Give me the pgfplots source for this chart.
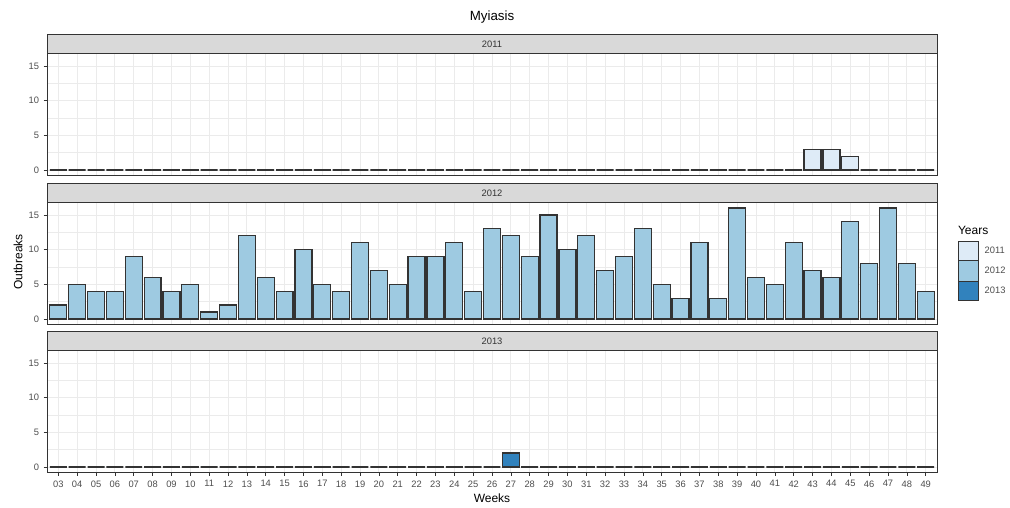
\documentclass[border=0pt]{standalone}
\usepackage{fontspec}
\setmainfont{Liberation Sans}
\usepackage{pgfplots}
\pgfplotsset{compat=1.18}
\definecolor{c2011}{HTML}{DEEBF7}
\definecolor{c2012}{HTML}{9ECAE1}
\definecolor{c2013}{HTML}{3182BD}
\definecolor{stripbg}{HTML}{D9D9D9}
\definecolor{gridc}{HTML}{EBEBEB}
\definecolor{g20}{HTML}{333333}
\definecolor{g30}{HTML}{4D4D4D}

% week index 0..46 = weeks 03..49
\pgfplotstableread{
x y
0 0
1 0
2 0
3 0
4 0
5 0
6 0
7 0
8 0
9 0
10 0
11 0
12 0
13 0
14 0
15 0
16 0
17 0
18 0
19 0
20 0
21 0
22 0
23 0
24 0
25 0
26 0
27 0
28 0
29 0
30 0
31 0
32 0
33 0
34 0
35 0
36 0
37 0
38 0
39 0
40 3
41 3
42 2
43 0
44 0
45 0
46 0
}\yrA
\pgfplotstableread{
x y
0 2
1 5
2 4
3 4
4 9
5 6
6 4
7 5
8 1
9 2
10 12
11 6
12 4
13 10
14 5
15 4
16 11
17 7
18 5
19 9
20 9
21 11
22 4
23 13
24 12
25 9
26 15
27 10
28 12
29 7
30 9
31 13
32 5
33 3
34 11
35 3
36 16
37 6
38 5
39 11
40 7
41 6
42 14
43 8
44 16
45 8
46 4
}\yrB
\pgfplotstableread{
x y
0 0
1 0
2 0
3 0
4 0
5 0
6 0
7 0
8 0
9 0
10 0
11 0
12 0
13 0
14 0
15 0
16 0
17 0
18 0
19 0
20 0
21 0
22 0
23 0
24 2
25 0
26 0
27 0
28 0
29 0
30 0
31 0
32 0
33 0
34 0
35 0
36 0
37 0
38 0
39 0
40 0
41 0
42 0
43 0
44 0
45 0
46 0
}\yrC

\pgfplotsset{facet/.style={
  scale only axis, width=667.5pt, height=91.5pt,
  anchor=south west,
  xmin=-0.6, xmax=46.6, ymin=-0.8, ymax=16.8,
  ytick={0,5,10,15}, minor ytick={2.5,7.5,12.5},
  xtick={0,...,46},
  grid=both,
  major grid style={gridc, line width=0.6pt},
  minor grid style={gridc, line width=0.3pt},
  axis line style={g20, line width=0.6pt},
  tick align=outside, major tick length=2.5pt, minor tick length=0pt,
  tick style={g20, line width=0.5pt},
  xtick pos=bottom, ytick pos=left,
  /pgf/number format/assume math mode=true,
  yticklabel style={font=\fontsize{7}{8}\selectfont, text=g30},
  xticklabel style={font=\fontsize{7}{8}\selectfont, text=g30},
  ybar, bar width=0.9,
  clip=false,
}}

\begin{document}
\begin{tikzpicture}
\path[use as bounding box] (0,0) rectangle (757.5pt,380.25pt);

\node[font=\fontsize{10}{12}\selectfont] at (369pt,367.5pt) {Myiasis};

% 2011
\begin{axis}[facet, at={(35.25pt,248.6pt)}, xticklabels={}, major x tick style={draw=none}]
\addplot[fill=c2011, draw=g20, line width=0.9pt] table[x=x,y=y]{\yrA};
\draw[fill=stripbg, draw=g20, line width=0.6pt] (rel axis cs:0,1) rectangle ([yshift=14.25pt]rel axis cs:1,1);
\node[font=\fontsize{7}{8}\selectfont, text=black!80] at ([yshift=7.1pt]rel axis cs:0.5,1) {2011};
\end{axis}

% 2012
\begin{axis}[facet, at={(35.25pt,136.9pt)}, xticklabels={}, major x tick style={draw=none}]
\addplot[fill=c2012, draw=g20, line width=0.9pt] table[x=x,y=y]{\yrB};
\draw[fill=stripbg, draw=g20, line width=0.6pt] (rel axis cs:0,1) rectangle ([yshift=14.25pt]rel axis cs:1,1);
\node[font=\fontsize{7}{8}\selectfont, text=black!80] at ([yshift=7.1pt]rel axis cs:0.5,1) {2012};
\end{axis}

% 2013
\begin{axis}[facet, at={(35.25pt,25.9pt)},
  xticklabels={03,04,05,06,07,08,09,10,11,12,13,14,15,16,17,18,19,20,21,22,23,24,25,26,27,28,29,30,31,32,33,34,35,36,37,38,39,40,41,42,43,44,45,46,47,48,49},
  xlabel={Weeks}, xlabel style={font=\fontsize{9}{10}\selectfont, yshift=2pt}]
\addplot[fill=c2013, draw=g20, line width=0.9pt] table[x=x,y=y]{\yrC};
\draw[fill=stripbg, draw=g20, line width=0.6pt] (rel axis cs:0,1) rectangle ([yshift=14.25pt]rel axis cs:1,1);
\node[font=\fontsize{7}{8}\selectfont, text=black!80] at ([yshift=7.1pt]rel axis cs:0.5,1) {2013};
\end{axis}

\node[rotate=90, font=\fontsize{9}{10}\selectfont] at (13.5pt,183.75pt) {Outbreaks};

% legend
\node[anchor=west, font=\fontsize{9}{10}\selectfont] at (715pt,207.75pt) {Years};
\draw[fill=c2011, draw=g20, line width=0.6pt] (718.5pt,185.25pt) rectangle (733.5pt,199.5pt);
\draw[fill=c2012, draw=g20, line width=0.6pt] (718.5pt,169.5pt) rectangle (733.5pt,185.25pt);
\draw[fill=c2013, draw=g20, line width=0.6pt] (718.5pt,155.25pt) rectangle (733.5pt,169.5pt);
\node[anchor=west, font=\fontsize{7}{8}\selectfont, text=g30] at (735pt,192.4pt) {2011};
\node[anchor=west, font=\fontsize{7}{8}\selectfont, text=g30] at (735pt,177.4pt) {2012};
\node[anchor=west, font=\fontsize{7}{8}\selectfont, text=g30] at (735pt,162.4pt) {2013};
\end{tikzpicture}
\end{document}
